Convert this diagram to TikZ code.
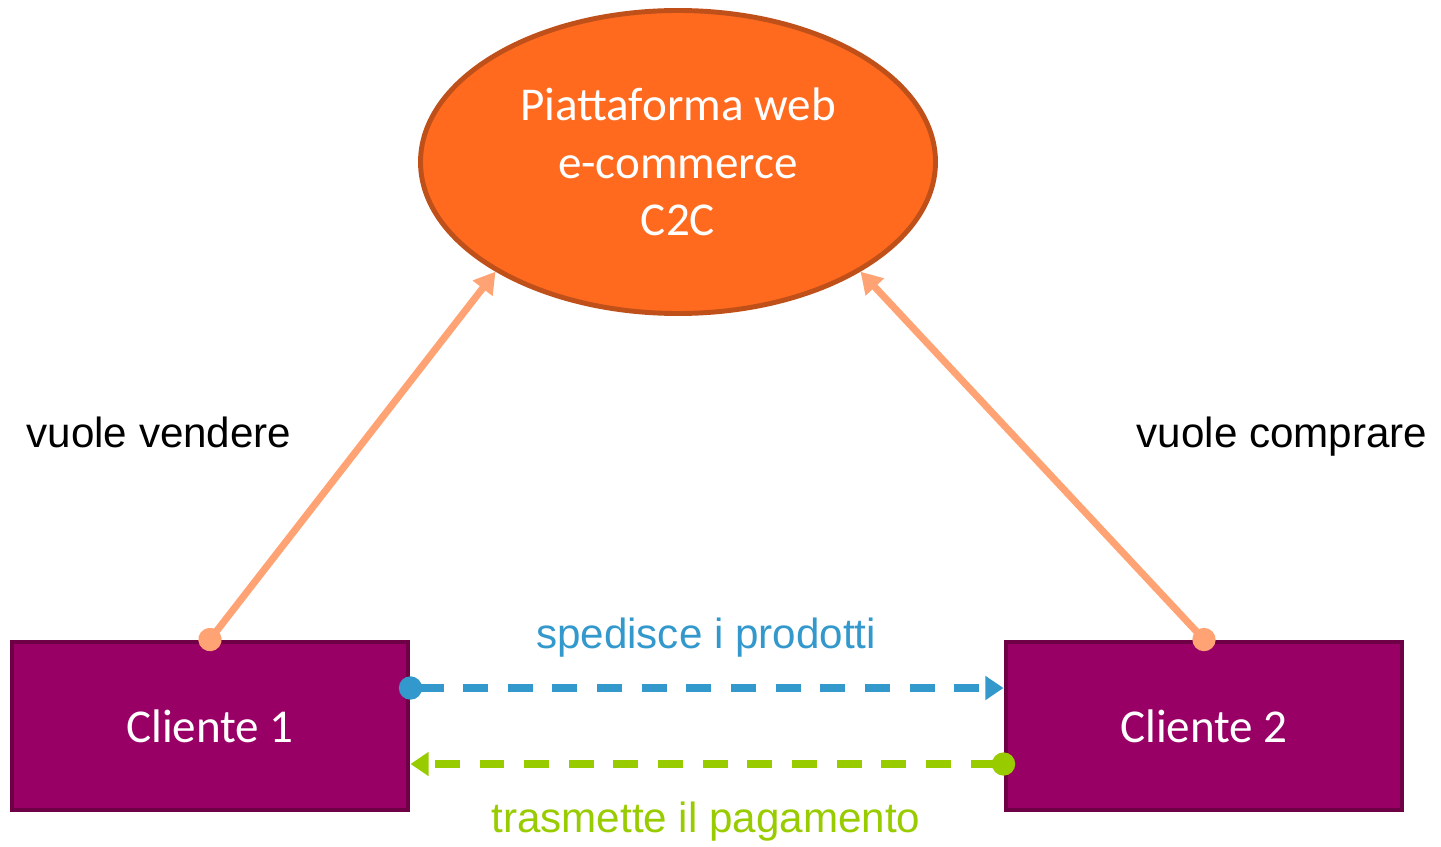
\documentclass[tikz,border=0pt]{standalone}
\usepackage{fontspec}
\setmainfont{Liberation Sans}
\newfontfamily\calib{Carlito}
\usepackage{tikz}
\usetikzlibrary{shapes.geometric}
\usetikzlibrary{arrows.meta}
\usetikzlibrary{positioning}

\definecolor{platFill}{HTML}{FF6A1F}
\definecolor{platLine}{HTML}{C0501A}
\definecolor{wantOrange}{HTML}{FFA374}
\definecolor{clientFill}{HTML}{990066}
\definecolor{clientLine}{HTML}{6E0046}
\definecolor{shipBlue}{HTML}{3399CC}
\definecolor{payGreen}{HTML}{99CC00}

\begin{document}
\begin{tikzpicture}[
node/.style = {text=white, font=\calib\fontsize{13.4}{16.4}\selectfont, line width=1.4pt},
platform/.style = {node, ellipse, draw=platLine, fill=platFill, minimum width=5.15cm, minimum height=3.03cm, inner sep=0pt, align=center},
client/.style = {node, rectangle, draw=clientLine, fill=clientFill, minimum width=3.96cm, minimum height=1.68cm},
wish/.style = {line width=2pt, draw=wantOrange, shorten <=-3.3pt, {Circle[length=6.6pt]}-{Triangle[length=6pt,width=6.8pt]}},
flow/.style = {line width=2pt, dash pattern=on 7.1pt off 5.6pt, shorten <=-3.3pt, {Circle[length=6.6pt]}-{Triangle[length=5.2pt,width=6.6pt]}},
flowBlue/.style = {flow, draw=shipBlue},
flowGreen/.style = {flow, draw=payGreen},
label/.style = {font=\fontsize{12}{14}\selectfont, anchor=base}]
\useasboundingbox (0,0) rectangle (14.41,-8.46);
\def\bit{3.8mm};

\node[platform] (plat) at (6.78,-1.62) {Piattaforma web\\e-commerce\\C2C};
\node[client] (c1) at (2.10,-7.26) {Cliente 1};
\node[client] (c2) at (12.04,-7.26) {Cliente 2};

\draw[wish] (c1.north) to (plat.211);
\draw[wish] (c2.north) to (plat.329);

\draw[flowBlue] ([yshift=\bit]c1.east) to ([yshift=\bit]c2.west);
\draw[flowGreen] ([yshift=-\bit]c2.west) to ([yshift=-\bit]c1.east);

\node[label] (sell) at (1.59,-4.47) {vuole vendere};
\node[label] (buy) at (12.82,-4.47) {vuole comprare};
\node[label, text=shipBlue] (ship) at (7.06,-6.48) {spedisce i prodotti};
\node[label, text=payGreen] (pay) at (7.06,-8.32) {trasmette il pagamento};

\end{tikzpicture}
\end{document}
